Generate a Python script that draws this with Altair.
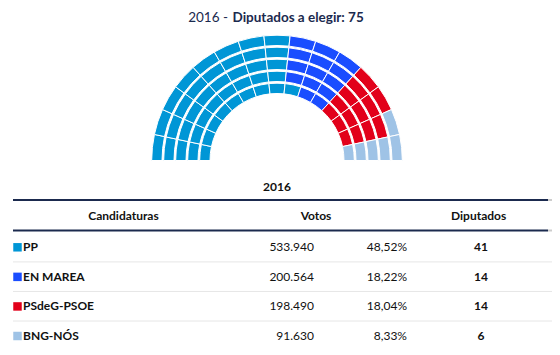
import altair as alt
import pandas as pd

# ---- data ----
parties = ["PP", "EN MAREA", "PSdeG-PSOE", "BNG-NÓS"]
seats = [41, 14, 14, 6]
votes = [533940, 200564, 198490, 91630]
pcts = [48.52, 18.22, 18.04, 8.33]
colors = ["#0096d6", "#1a4dff", "#e2001a", "#9fc3e6"]
year = "2016"
total_seats = 75
n_rows = 5
n_cols = 15

FONT = "Lato"
TEXT = "#111111"
NAVY = "#1b2a4e"

# seat table: filled column by column (left→right), inner row → outer row
seat_rows = []
owner = []
for p, n in zip(parties, seats):
    owner += [p] * n
for k, p in enumerate(owner):
    col, row = divmod(k, n_rows)
    seat_rows.append({"party": p, "c0": col, "c1": col + 1, "r0": row, "r1": row + 0.86})
seats_df = pd.DataFrame(seat_rows)

table_df = pd.DataFrame({
    "party": parties,
    "votos": [f"{v:,}".replace(",", ".") for v in votes],
    "pct": [f"{p:.2f}".replace(".", ",") + "%" for p in pcts],
    "dip": [str(s) for s in seats],
})

color_enc = alt.Color("party:N", scale=alt.Scale(domain=parties, range=colors), legend=None)
y_rows = alt.Y("party:N", scale=alt.Scale(type="point", domain=parties, range=[239.3, 328.0], padding=0), axis=None)

# ---- hemicycle ----
hemi = alt.Chart(seats_df).mark_arc(stroke="white", strokeWidth=1).encode(
    theta=alt.Theta("c0:Q", scale=alt.Scale(domain=[0, n_cols], range=[4.712389, 7.853982])),
    theta2="c1:Q",
    radius=alt.Radius("r0:Q", scale=alt.Scale(type="linear", domain=[0, n_rows], range=[67, 127], zero=False)),
    radius2="r1:Q",
    color=color_enc,
    x=alt.value(269),
    y=alt.value(152.5),
)

one = pd.DataFrame({"a": [0]})

title_a = alt.Chart(one).mark_text(font=FONT, fontSize=13.5, color=NAVY, align="right", baseline="middle").encode(
    text=alt.value(f"{year} -"), x=alt.value(220), y=alt.value(9.5))
title_b = alt.Chart(one).mark_text(font=FONT, fontSize=13.5, fontWeight="bold", color=NAVY, align="left", baseline="middle").encode(
    text=alt.value(f"Diputados a elegir: {total_seats}"), x=alt.value(224.5), y=alt.value(9.5))

tbl_year = alt.Chart(one).mark_text(font=FONT, fontSize=12, fontWeight="bold", color=TEXT, baseline="middle").encode(
    text=alt.value(year), x=alt.value(269), y=alt.value(179))

headers_df = pd.DataFrame({"h": ["Candidaturas", "Votos", "Diputados"], "hx": [115.5, 308, 470.6]})
headers = alt.Chart(headers_df).mark_text(font=FONT, fontSize=12, fontWeight="bold", color=TEXT, baseline="middle").encode(
    text="h:N", x=alt.X("hx:Q", scale=None), y=alt.value(207.7))

lines_df = pd.DataFrame({"ly": [192, 222.5]})
navy_lines = alt.Chart(lines_df).mark_rule(color=NAVY, strokeWidth=2).encode(
    y=alt.Y("ly:Q", scale=None), x=alt.value(5), x2=alt.value(540))
gray_ends = alt.Chart(lines_df).mark_rule(color="#cccccc", strokeWidth=2).encode(
    y=alt.Y("ly:Q", scale=None), x=alt.value(540), x2=alt.value(544))

row_seps = alt.Chart(table_df.iloc[:3]).mark_rule(color="#e6e6e6", strokeWidth=1, yOffset=14.6).encode(
    y=y_rows, x=alt.value(5), x2=alt.value(544))

squares = alt.Chart(table_df).mark_square(size=72, opacity=1).encode(
    y=y_rows, x=alt.value(9.5), color=color_enc)
names = alt.Chart(table_df).mark_text(font=FONT, fontSize=12, fontWeight="bold", color=TEXT, align="left", baseline="middle").encode(
    y=y_rows, x=alt.value(15), text="party:N")
votos_t = alt.Chart(table_df).mark_text(font=FONT, fontSize=12, color=TEXT, align="right", baseline="middle").encode(
    y=y_rows, x=alt.value(306), text="votos:N")
pct_t = alt.Chart(table_df).mark_text(font=FONT, fontSize=12, color=TEXT, align="right", baseline="middle").encode(
    y=y_rows, x=alt.value(399), text="pct:N")
dip_t = alt.Chart(table_df).mark_text(font=FONT, fontSize=12, fontWeight="bold", color=TEXT, align="center", baseline="middle").encode(
    y=y_rows, x=alt.value(473), text="dip:N")

chart = alt.layer(
    hemi, title_a, title_b, tbl_year, headers, navy_lines, gray_ends, row_seps,
    squares, names, votos_t, pct_t, dip_t
).properties(
    width=544, height=339, autosize=alt.AutoSizeParams(type="none"), padding=0
).configure_view(stroke=None)

chart.save("out.html", embed_options={"renderer": "svg", "actions": False})
